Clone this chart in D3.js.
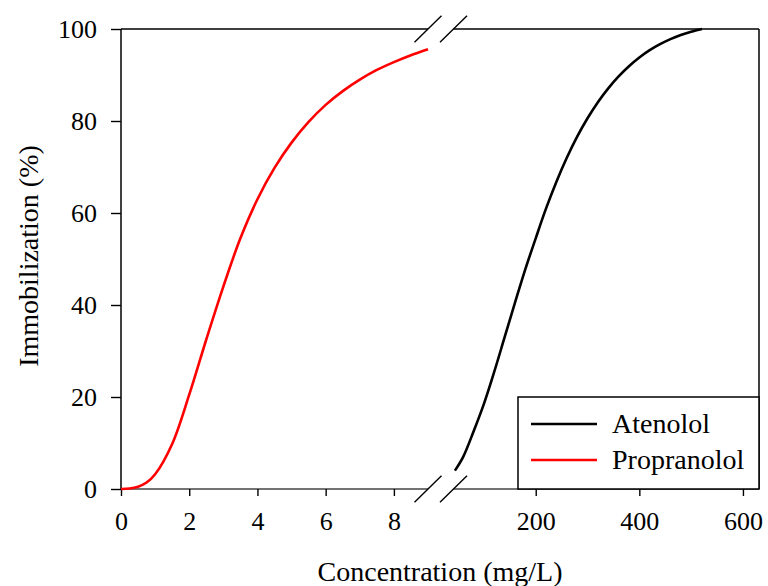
<!DOCTYPE html>
<html>
<head>
<meta charset="utf-8">
<script src="https://cdn.jsdelivr.net/npm/d3@7"></script>
<style>
  html, body { margin: 0; padding: 0; background: #fff; }
  svg { display: block; }
  text { font-family: "Liberation Serif", "Times New Roman", serif; fill: #000; }
</style>
</head>
<body>
<svg id="chart" width="768" height="586"></svg>
<script>
// Propranolol: low-concentration segment (mg/L) and immobilization (%)
const propranololConc = [0, 0.25, 0.5, 0.75, 1, 1.5, 2, 2.5, 3, 3.5, 4, 4.5, 5, 5.5, 6, 6.5, 7, 7.5, 8, 8.5, 9];
const propranololImmob = [0, 0.1, 0.5, 1.4, 3.2, 9.8, 20.5, 32.5, 44, 54.5, 63, 69.8, 75.3, 79.8, 83.5, 86.5, 89, 91.1, 92.8, 94.3, 95.6];

// Atenolol: high-concentration segment (mg/L) and immobilization (%)
const atenololConc = [44, 60, 80, 100, 120, 140, 160, 180, 200, 220, 240, 260, 280, 300, 320, 340, 360, 380, 400, 420, 440, 460, 480, 500, 521];
const atenololImmob = [4, 7, 12.5, 18.5, 25.5, 33, 40.5, 47.8, 54.5, 61, 66.8, 72, 76.6, 80.6, 84.1, 87.1, 89.7, 91.9, 93.8, 95.4, 96.7, 97.8, 98.7, 99.4, 100];

// Tick values for the two x segments and the y axis
const xTicksLow = [0, 2, 4, 6, 8];
const xTicksHigh = [200, 400, 600];
const yTicks = [0, 20, 40, 60, 80, 100];

const seriesNames = ["Atenolol", "Propranolol"];
const seriesColors = ["#000000", "#ff0000"];

const svg = d3.select("#chart");

const plotLeft = 121, plotRight = 759, plotTop = 29, plotBottom = 489;
const breakA = 428, breakB = 453.5;

const xLow = d3.scaleLinear().domain([0, 9]).range([plotLeft, breakA]);
const xHigh = d3.scaleLinear().domain([41.3, 631]).range([breakB, plotRight]);
const y = d3.scaleLinear().domain([0, 100]).range([plotBottom, plotTop]);

// Frame: top and bottom lines broken at the axis break, right side full
const frame = svg.append("g").attr("stroke-width", 1.5).attr("fill", "none");
frame.append("line").attr("x1", plotLeft).attr("x2", breakA).attr("y1", plotTop).attr("y2", plotTop).attr("stroke", "#000");
frame.append("line").attr("x1", breakB).attr("x2", plotRight).attr("y1", plotTop).attr("y2", plotTop).attr("stroke", "#000");
frame.append("line").attr("x1", plotRight).attr("x2", plotRight).attr("y1", plotTop).attr("y2", plotBottom).attr("stroke", "#000");
frame.append("line").attr("x1", plotLeft).attr("x2", breakA).attr("y1", plotBottom).attr("y2", plotBottom).attr("stroke", "#444");
frame.append("line").attr("x1", breakB).attr("x2", plotRight).attr("y1", plotBottom).attr("y2", plotBottom).attr("stroke", "#444");

// Break marks on top and bottom edges
[plotTop, plotBottom].forEach(yy => {
  [breakA, breakB].forEach(xx => {
    svg.append("line")
      .attr("x1", xx - 13.5).attr("y1", yy + 13.3)
      .attr("x2", xx + 13.5).attr("y2", yy - 13.3)
      .attr("stroke", "#000").attr("stroke-width", 1.4);
  });
});

// Axes
function styleAxis(g, size) {
  g.select(".domain").remove();
  g.selectAll(".tick line").attr("stroke", "#000").attr("stroke-width", 1.4);
  g.selectAll(".tick text").attr("font-size", size).attr("font-family", "Liberation Serif, Times New Roman, serif").attr("fill", "#000");
}

svg.append("g")
  .attr("transform", `translate(0,${plotBottom})`)
  .call(d3.axisBottom(xLow).tickValues(xTicksLow).tickSize(7).tickPadding(16).tickFormat(d3.format("d")))
  .call(g => styleAxis(g, 26));

svg.append("g")
  .attr("transform", `translate(0,${plotBottom})`)
  .call(d3.axisBottom(xHigh).tickValues(xTicksHigh).tickSize(7).tickPadding(16).tickFormat(d3.format("d")))
  .call(g => styleAxis(g, 26));

svg.append("g")
  .attr("transform", `translate(${plotLeft},0)`)
  .call(d3.axisLeft(y).tickValues(yTicks).tickSize(10).tickPadding(14).tickFormat(d3.format("d")))
  .call(g => styleAxis(g, 26));

svg.append("line")
  .attr("x1", plotLeft).attr("x2", plotLeft).attr("y1", plotTop).attr("y2", plotBottom)
  .attr("stroke", "#000").attr("stroke-width", 1.5);

// Curves
const lineLow = d3.line().x(d => xLow(d[0])).y(d => y(d[1])).curve(d3.curveCatmullRom.alpha(0.5));
const lineHigh = d3.line().x(d => xHigh(d[0])).y(d => y(d[1])).curve(d3.curveCatmullRom.alpha(0.5));

svg.append("path")
  .datum(atenololConc.map((c, i) => [c, atenololImmob[i]]))
  .attr("d", lineHigh)
  .attr("fill", "none").attr("stroke", seriesColors[0]).attr("stroke-width", 2.6);

svg.append("path")
  .datum(propranololConc.map((c, i) => [c, propranololImmob[i]]))
  .attr("d", lineLow)
  .attr("fill", "none").attr("stroke", seriesColors[1]).attr("stroke-width", 2.6);

// Legend
const legend = svg.append("g");
legend.append("rect")
  .attr("x", 518).attr("y", 397).attr("width", plotRight - 518).attr("height", plotBottom - 397)
  .attr("fill", "#fff").attr("stroke", "#000").attr("stroke-width", 1.5);
seriesNames.forEach((name, i) => {
  const ly = 424 + i * 36;
  legend.append("line")
    .attr("x1", 531).attr("x2", 597).attr("y1", ly).attr("y2", ly)
    .attr("stroke", seriesColors[i]).attr("stroke-width", 2.6);
  legend.append("text")
    .attr("x", 612).attr("y", ly + 9)
    .attr("font-size", 28)
    .text(name);
});

// Axis titles
svg.append("text")
  .attr("x", 440).attr("y", 581)
  .attr("text-anchor", "middle")
  .attr("font-size", 28)
  .text("Concentration (mg/L)");

svg.append("text")
  .attr("transform", "translate(38,256) rotate(-90)")
  .attr("text-anchor", "middle")
  .attr("font-size", 28)
  .text("Immobilization (%)");
</script>
</body>
</html>
